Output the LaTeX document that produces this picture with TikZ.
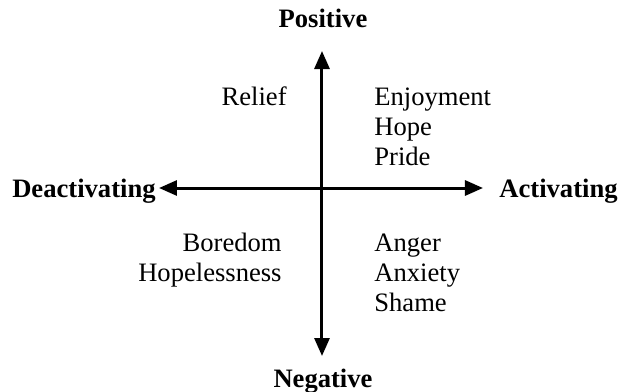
\documentclass[tikz,border=0pt]{standalone}
\usepackage{fontspec}
\setmainfont{Liberation Serif}
\usepackage{tikz}
\usetikzlibrary{positioning, arrows.meta}

\tikzset{
  axis/.style={line width=1.5pt, {Triangle[length=9pt,width=7.5pt]}-{Triangle[length=9pt,width=7.5pt]}},
  pole/.style={font=\fontsize{13.3}{15}\selectfont\bfseries, inner sep=0pt},
  emo/.style={font=\fontsize{13.3}{15}\selectfont, inner sep=0pt}
}

\begin{document}
\begin{tikzpicture}[x=0.5pt, y=-0.5pt]
    \useasboundingbox (0,0) rectangle (629,392);
    % Axis end points
    \coordinate (top) at (322,51);
    \coordinate (bot) at (322,356);
    \coordinate (lft) at (159,188);
    \coordinate (rgt) at (483,188);
    \draw[axis] (bot) -- (top);
    \draw[axis] (lft) -- (rgt);
    % Pole labels
    \node[pole, anchor=base] (pos) at (323,27) {Positive};
    \node[pole, anchor=base] (neg) at (323,387) {Negative};
    \node[pole, anchor=base east] (deact) at (156,197) {Deactivating};
    \node[pole, anchor=base west] (act) at (499,197) {Activating};
    % Emotions, upper quadrants
    \node[emo, anchor=base east] (relief) at (287,105) {Relief};
    \node[emo, anchor=base west] (enjoy) at (374,105) {Enjoyment};
    \node[emo, anchor=base west] (hope) at (374,135) {Hope};
    \node[emo, anchor=base west] (pride) at (374,165) {Pride};
    % Emotions, lower quadrants
    \node[emo, anchor=base east] (bored) at (282,251) {Boredom};
    \node[emo, anchor=base east] (hopeless) at (282,281) {Hopelessness};
    \node[emo, anchor=base west] (anger) at (374,251) {Anger};
    \node[emo, anchor=base west] (anxiety) at (374,281) {Anxiety};
    \node[emo, anchor=base west] (shame) at (374,311) {Shame};
\end{tikzpicture}
\end{document}
